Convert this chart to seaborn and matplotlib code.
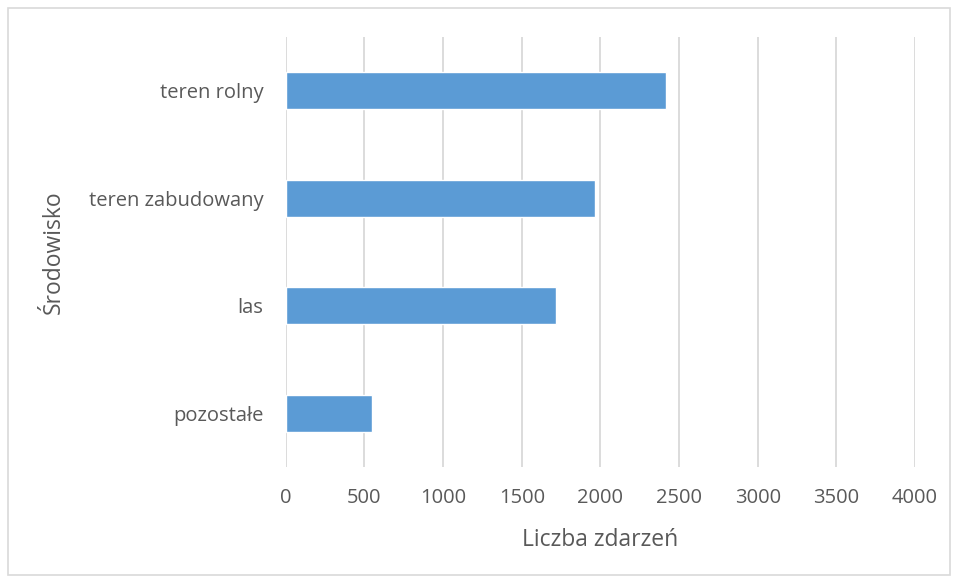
import pandas as pd
import matplotlib.pyplot as plt
import matplotlib.patches as patches
import seaborn as sns

categories = ["teren rolny", "teren zabudowany", "las", "pozostałe"]
counts = [2420, 1965, 1715, 550]
xticks = [0, 500, 1000, 1500, 2000, 2500, 3000, 3500, 4000]

df = pd.DataFrame({"srodowisko": categories, "liczba": counts})

sns.set_style("white")
plt.rcParams['font.family'] = ['Open Sans', 'DejaVu Sans']
text_color = "#595959"

fig = plt.figure(figsize=(9.56, 5.79), dpi=100)
ax = fig.add_axes([0.299, 0.193, 0.658, 0.743])

sns.barplot(data=df, x="liczba", y="srodowisko", order=categories,
            color="#5B9BD5", width=0.345, saturation=1, ax=ax)

ax.set_xlim(0, 4000)
ax.set_xticks(xticks)
ax.set_xticklabels([str(t) for t in xticks], fontsize=14.5, color=text_color)
ax.tick_params(axis="y", labelsize=14.5, labelcolor=text_color, length=0, pad=16)
ax.tick_params(axis="x", length=0, pad=15)
ax.grid(axis="x", color="#d9d9d9", linewidth=1.3)
ax.set_axisbelow(True)
for s in ["top", "right", "bottom", "left"]:
    ax.spines[s].set_visible(False)

ax.set_xlabel("Liczba zdarzeń", fontsize=16.5, color=text_color, labelpad=14)
ax.set_ylabel("Środowisko", fontsize=16.5, color=text_color, labelpad=17)

fig.patches.append(patches.Rectangle((8 / 956, 4 / 579), 942 / 956, 567 / 579,
                                     transform=fig.transFigure, fill=False,
                                     edgecolor="#d9d9d9", linewidth=1.2))

plt.savefig("out.png", dpi=100)
